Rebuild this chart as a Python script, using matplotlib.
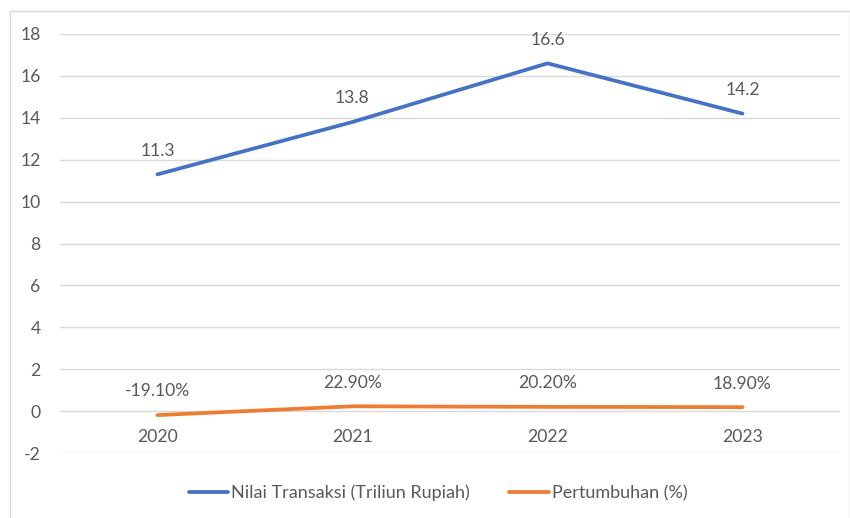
import matplotlib.pyplot as plt
from matplotlib.patches import Rectangle

plt.rcParams['font.family'] = ['Lato', 'DejaVu Sans']
plt.rcParams['axes.unicode_minus'] = False

# data
years = ['2020', '2021', '2022', '2023']
nilai_transaksi = [11.3, 13.8, 16.6, 14.2]
pertumbuhan = [-0.191, 0.229, 0.202, 0.189]
y_ticks = [-2, 0, 2, 4, 6, 8, 10, 12, 14, 16, 18]

blue = '#4472C4'
orange = '#ED7D31'
text_col = '#595959'
grid_col = '#D9D9D9'
fs = 12.6

fig = plt.figure(figsize=(8.5, 5.18), dpi=100)
# outer chart border like excel
fig.patches.append(Rectangle((10 / 850, -0.01), 840 / 850, 1 - 11 / 518 + 0.01,
                             transform=fig.transFigure, fill=False,
                             edgecolor=grid_col, linewidth=1.0))

ax = fig.add_axes([60 / 850, (518 - 453) / 518, 780 / 850, 419 / 518])
x = list(range(len(years)))

ax.plot(x, nilai_transaksi, color=blue, linewidth=2.7, solid_capstyle='round',
        label='Nilai Transaksi (Triliun Rupiah)', zorder=3)
ax.plot(x, pertumbuhan, color=orange, linewidth=2.7, solid_capstyle='round',
        label='Pertumbuhan (%)', zorder=3)

# data labels
for i, v in enumerate(nilai_transaksi):
    ax.annotate(f'{v:.1f}', (i, v), xytext=(0, 17), textcoords='offset points',
                ha='center', va='center', fontsize=fs, color=text_col)
for i, v in enumerate(pertumbuhan):
    ax.annotate(f'{v * 100:.2f}%', (i, v), xytext=(0, 17), textcoords='offset points',
                ha='center', va='center', fontsize=fs, color=text_col)

# category labels sit under the zero line
for i, yr in enumerate(years):
    ax.annotate(yr, (i, 0), xytext=(0, -19), textcoords='offset points',
                ha='center', va='center', fontsize=fs, color=text_col)

ax.set_xlim(-0.5, 3.5)
ax.set_ylim(-2, 18)
ax.set_yticks(y_ticks)
ax.set_xticks([])
ax.tick_params(axis='y', length=0, pad=14, labelsize=fs, labelcolor=text_col)
ax.grid(axis='y', color=grid_col, linewidth=1.0)
ax.set_axisbelow(True)
for s in ax.spines.values():
    s.set_visible(False)

fig.legend(loc='center', bbox_to_anchor=(438 / 850, 1 - 493 / 518), ncol=2, frameon=False,
           fontsize=13, labelcolor=text_col, handlelength=2.2, handletextpad=0.15,
           columnspacing=2.2)

fig.savefig('out.png', dpi=100)
